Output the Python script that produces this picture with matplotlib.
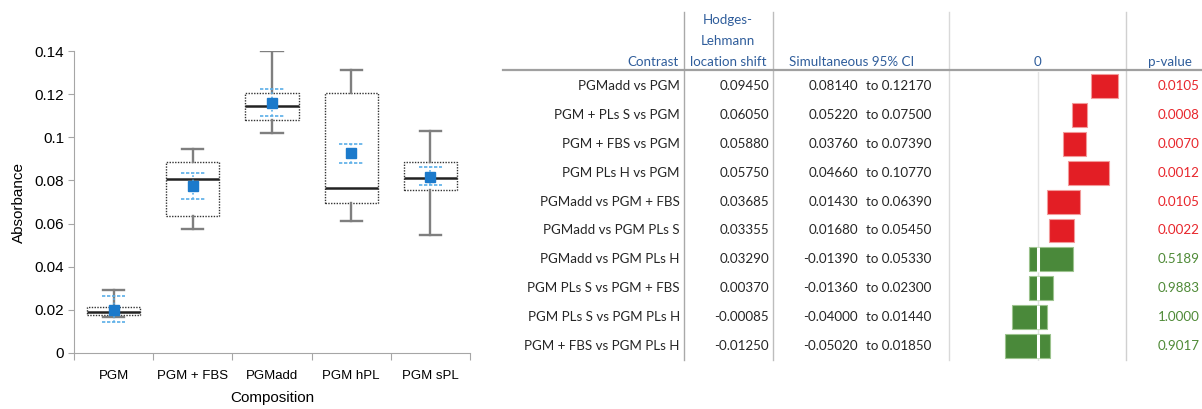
import matplotlib.pyplot as plt
import matplotlib
import numpy as np

matplotlib.rcParams['font.family'] = 'Liberation Sans'

# left panel: box plot values
groups = ['PGM', 'PGM + FBS', 'PGMadd', 'PGM hPL', 'PGM sPL']
whisk_lo = [0.0168, 0.0575, 0.1021, 0.0611, 0.0546]
q1 = [0.0176, 0.0637, 0.1082, 0.0694, 0.0754]
med = [0.0188, 0.0808, 0.1144, 0.0765, 0.0809]
q3 = [0.0213, 0.0885, 0.1203, 0.1206, 0.0887]
whisk_hi = [0.0290, 0.0948, 0.1400, 0.1314, 0.1030]
mean = [0.0200, 0.0774, 0.1161, 0.0925, 0.0817]
ci_lo = [0.0142, 0.0715, 0.1099, 0.0882, 0.0777]
ci_hi = [0.0262, 0.0833, 0.1226, 0.0968, 0.0860]
yticks = [0, 0.02, 0.04, 0.06, 0.08, 0.1, 0.12, 0.14]
ylabels = ['0', '0.02', '0.04', '0.06', '0.08', '0.1', '0.12', '0.14']

# right panel: contrasts table
contrasts = ['PGMadd vs PGM', 'PGM + PLs S vs PGM', 'PGM + FBS vs PGM',
             'PGM PLs H vs PGM', 'PGMadd vs PGM + FBS', 'PGMadd vs PGM PLs S',
             'PGMadd vs PGM PLs H', 'PGM PLs S vs PGM + FBS',
             'PGM PLs S vs PGM PLs H', 'PGM + FBS vs PGM PLs H']
hl_shift = ['0.09450', '0.06050', '0.05880', '0.05750', '0.03685',
            '0.03355', '0.03290', '0.00370', '-0.00085', '-0.01250']
lower = [0.08140, 0.05220, 0.03760, 0.04660, 0.01430,
         0.01680, -0.01390, -0.01360, -0.04000, -0.05020]
upper = [0.12170, 0.07500, 0.07390, 0.10770, 0.06390,
         0.05450, 0.05330, 0.02300, 0.01440, 0.01850]
pvals = [0.0105, 0.0008, 0.0070, 0.0012, 0.0105,
         0.0022, 0.5189, 0.9883, 1.0000, 0.9017]

W, H = 1202, 409
fig = plt.figure(figsize=(W / 100, H / 100), dpi=100)

# ---------------- box plot ----------------
ax = fig.add_axes([74 / W, 1 - 353 / H, 396 / W, 302 / H])
stats = []
for i in range(len(groups)):
    stats.append({'whislo': whisk_lo[i], 'q1': q1[i], 'med': med[i],
                  'q3': q3[i], 'whishi': whisk_hi[i], 'fliers': []})
pos = np.arange(1, len(groups) + 1)
ax.bxp(stats, positions=pos, widths=0.67, showfliers=False, patch_artist=True,
       boxprops=dict(facecolor='white', edgecolor='#333333', linestyle=(0, (1, 1)), linewidth=1.0),
       medianprops=dict(color='#222222', linewidth=1.8),
       whiskerprops=dict(color='#7f7f7f', linewidth=1.7),
       capprops=dict(color='#7f7f7f', linewidth=1.7), capwidths=0.27)
ax.vlines(pos, ci_lo, ci_hi, colors='#5aaee8', linestyles=':', linewidth=1.2, zorder=4)
ax.hlines(ci_lo, pos - 0.15, pos + 0.15, colors='#5aaee8', linestyles=(0, (2, 1)), linewidth=1.2, zorder=4)
ax.hlines(ci_hi, pos - 0.15, pos + 0.15, colors='#5aaee8', linestyles=(0, (2, 1)), linewidth=1.2, zorder=4)
ax.plot(pos, mean, 's', color='#1c7acb', markersize=7, zorder=5)

ax.set_xlim(0.5, len(groups) + 0.5)
ax.set_ylim(0, 0.14)
ax.set_yticks(yticks)
ax.set_yticklabels(ylabels, fontsize=11)
ax.set_xticks(np.arange(0.5, len(groups) + 1))
ax.set_xticklabels([])
ax.set_xticks(pos, minor=True)
ax.set_xticklabels(groups, minor=True, fontsize=9.5)
ax.tick_params(axis='x', which='minor', length=0, pad=12)
ax.tick_params(axis='x', which='major', length=5, color='#a6a6a6')
ax.tick_params(axis='y', length=4, color='#a6a6a6', pad=3)
for s in ['top', 'right']:
    ax.spines[s].set_visible(False)
for s in ['left', 'bottom']:
    ax.spines[s].set_color('#a6a6a6')
ax.set_ylabel('Absorbance', fontsize=11, labelpad=6)
ax.set_xlabel('Composition', fontsize=11, labelpad=7)

# ---------------- table ----------------
tab = fig.add_axes([0, 0, 1, 1])
tab.set_xlim(0, W)
tab.set_ylim(H, 0)
tab.axis('off')

tfont = 'Lato'
fs = 9.6
hcol = '#2f5d9b'
tcol = '#262626'
red = '#e8262c'
green = '#4f8a37'
y0, dy = 86, 28.9

for xs, c in [(684, '#a9a9a9'), (773, '#bdbdbd'), (949, '#d9d9d9'), (1126, '#d0d0d0')]:
    tab.plot([xs, xs], [12, 360], color=c, lw=1.0)
tab.plot([503, W], [70, 70], color='#a0a0a0', lw=1.6)

tab.text(679, 62, 'Contrast', ha='right', va='center', color=hcol, fontsize=fs, family=tfont)
for k, line in enumerate(['Hodges-', 'Lehmann', 'location shift']):
    tab.text(728, 20 + 21 * k, line, ha='center', va='center', color=hcol, fontsize=fs, family=tfont)
tab.text(852, 62, 'Simultaneous 95% CI', ha='center', va='center', color=hcol, fontsize=fs, family=tfont)
tab.text(1038, 62, '0', ha='center', va='center', color=hcol, fontsize=fs, family=tfont)
tab.text(1170, 62, 'p-value', ha='center', va='center', color=hcol, fontsize=fs, family=tfont)

for i in range(len(contrasts)):
    yy = y0 + i * dy
    tab.text(680, yy, contrasts[i], ha='right', va='center', color=tcol, fontsize=fs, family=tfont)
    tab.text(769, yy, hl_shift[i], ha='right', va='center', color=tcol, fontsize=fs, family=tfont)
    tab.text(858, yy, '%.5f' % lower[i], ha='right', va='center', color=tcol, fontsize=fs, family=tfont)
    tab.text(931, yy, 'to %.5f' % upper[i], ha='right', va='center', color=tcol, fontsize=fs, family=tfont)
    pc = red if pvals[i] < 0.05 else green
    tab.text(1200, yy, '%.4f' % pvals[i], ha='right', va='center', color=pc, fontsize=fs, family=tfont)

# ---------------- CI bars ----------------
top = y0 - dy / 2
bot = y0 + (len(contrasts) - 0.5) * dy
axf = fig.add_axes([949 / W, 1 - bot / H, 177 / W, (bot - top) / H])
axf.patch.set_alpha(0)
axf.axis('off')
rows = np.arange(len(contrasts))
lo = np.array(lower)
hi = np.array(upper)
sig = np.array(pvals) < 0.05
axf.axvline(0, color='#e3e3e3', lw=1.0, zorder=0)
axf.barh(rows[sig], hi[sig] - lo[sig], left=lo[sig], height=0.83,
         color='#e31e25', edgecolor='#f29a9a', linewidth=0.8, zorder=2)
axf.barh(rows[~sig], hi[~sig] - lo[~sig], left=lo[~sig], height=0.83,
         color='#4a893a', edgecolor='#9cc38e', linewidth=0.8, zorder=2)
cross = (lo < 0) & (hi > 0)
axf.vlines(np.zeros(cross.sum()), rows[cross] - 0.42, rows[cross] + 0.42,
           colors='white', lw=2.2, zorder=3)
axf.set_xlim(-0.135, 0.134)
axf.set_ylim(len(contrasts) - 0.5, -0.5)

fig.savefig('out.png', dpi=100)
